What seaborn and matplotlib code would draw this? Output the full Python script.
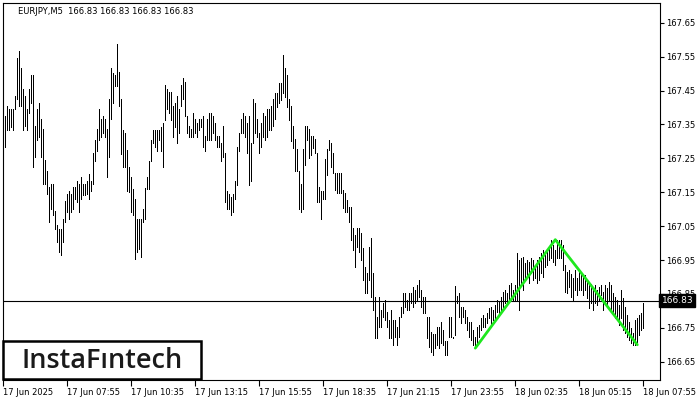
import matplotlib
matplotlib.use("Agg")
import matplotlib.pyplot as plt
import numpy as np
import pandas as pd
import seaborn as sns
from matplotlib.patches import Rectangle

# EURJPY M5 bars (high / low per bar)
symbol = "EURJPY,M5"
last_price = 166.83

bar_high = [
    167.375, 167.375, 167.404, 167.395, 167.395, 167.395, 167.434, 167.546, 167.567, 167.516,
    167.454, 167.434, 167.395, 167.454, 167.496, 167.496, 167.345, 167.395, 167.413, 167.366,
    167.336, 167.245, 167.212, 167.165, 167.174, 167.174, 167.095, 167.053, 167.041, 167.041,
    167.071, 167.124, 167.145, 167.154, 167.145, 167.165, 167.165, 167.183, 167.174, 167.195,
    167.174, 167.174, 167.183, 167.204, 167.183, 167.266, 167.304, 167.336, 167.395, 167.366,
    167.375, 167.366, 167.336, 167.425, 167.516, 167.502, 167.496, 167.587, 167.505, 167.425,
    167.334, 167.325, 167.275, 167.224, 167.195, 167.160, 167.130, 167.071, 167.071, 167.071,
    167.100, 167.162, 167.195, 167.242, 167.304, 167.334, 167.334, 167.334, 167.334, 167.342,
    167.354, 167.466, 167.454, 167.446, 167.446, 167.404, 167.413, 167.434, 167.395, 167.466,
    167.487, 167.475, 167.375, 167.345, 167.336, 167.384, 167.366, 167.354, 167.366, 167.366,
    167.375, 167.316, 167.366, 167.384, 167.384, 167.375, 167.354, 167.316, 167.316, 167.295,
    167.345, 167.266, 167.154, 167.145, 167.136, 167.145, 167.183, 167.283, 167.325, 167.366,
    167.384, 167.375, 167.354, 167.375, 167.295, 167.425, 167.413, 167.366, 167.325, 167.354,
    167.384, 167.375, 167.395, 167.395, 167.404, 167.425, 167.443, 167.443, 167.472, 167.472,
    167.555, 167.516, 167.496, 167.425, 167.404, 167.345, 167.307, 167.277, 167.212, 167.174,
    167.277, 167.345, 167.345, 167.336, 167.316, 167.316, 167.307, 167.266, 167.165, 167.154,
    167.154, 167.248, 167.277, 167.304, 167.295, 167.266, 167.207, 167.207, 167.207, 167.207,
    167.157, 167.148, 167.127, 167.106, 167.106, 167.044, 167.024, 167.044, 167.044, 167.030,
    166.985, 166.929, 166.912, 166.988, 167.015, 166.912, 166.841, 166.782, 166.841, 166.803,
    166.823, 166.832, 166.797, 166.773, 166.803, 166.773, 166.773, 166.752, 166.782, 166.811,
    166.853, 166.853, 166.832, 166.853, 166.853, 166.870, 166.862, 166.876, 166.891, 166.862,
    166.841, 166.841, 166.782, 166.782, 166.738, 166.732, 166.732, 166.752, 166.752, 166.767,
    166.744, 166.711, 166.711, 166.782, 166.782, 166.723, 166.873, 166.844, 166.853, 166.811,
    166.811, 166.803, 166.782, 166.767, 166.767, 166.744, 166.723, 166.752, 166.758, 166.779,
    166.788, 166.779, 166.794, 166.808, 166.811, 166.803, 166.817, 166.832, 166.826, 166.841,
    166.856, 166.862, 166.853, 166.876, 166.882, 166.862, 166.876, 166.971, 166.950, 166.956,
    166.959, 166.941, 166.950, 166.944, 166.956, 166.950, 166.926, 166.950, 166.959, 166.971,
    166.980, 166.965, 166.980, 166.985, 167.009, 166.994, 166.980, 167.009, 167.009, 167.009,
    166.994, 166.935, 166.915, 166.921, 166.909, 166.897, 166.921, 166.897, 166.921, 166.906,
    166.903, 166.906, 166.891, 166.879, 166.879, 166.867, 166.876, 166.862, 166.870, 166.876,
    166.856, 166.876, 166.867, 166.885, 166.876, 166.853, 166.841, 166.832, 166.817, 166.862,
    166.838, 166.811, 166.788, 166.767, 166.750, 166.735, 166.773, 166.779, 166.788, 166.794,
    166.823,
]

bar_low = [
    167.266, 167.283, 167.334, 167.334, 167.342, 167.334, 167.395, 167.425, 167.404, 167.404,
    167.334, 167.345, 167.334, 167.384, 167.413, 167.224, 167.254, 167.304, 167.313, 167.254,
    167.174, 167.174, 167.145, 167.062, 167.100, 167.083, 167.041, 167.003, 166.974, 166.965,
    167.003, 167.062, 167.092, 167.071, 167.092, 167.100, 167.130, 167.121, 167.092, 167.130,
    167.142, 167.142, 167.145, 167.130, 167.154, 167.174, 167.242, 167.272, 167.304, 167.313,
    167.325, 167.313, 167.195, 167.254, 167.366, 167.413, 167.463, 167.463, 167.404, 167.263,
    167.224, 167.224, 167.154, 167.151, 167.092, 167.083, 166.953, 166.974, 166.982, 166.959,
    167.062, 167.071, 167.160, 167.160, 167.242, 167.295, 167.283, 167.272, 167.304, 167.272,
    167.224, 167.363, 167.395, 167.384, 167.363, 167.313, 167.342, 167.295, 167.325, 167.404,
    167.425, 167.375, 167.325, 167.313, 167.313, 167.313, 167.325, 167.313, 167.334, 167.342,
    167.283, 167.272, 167.304, 167.304, 167.304, 167.325, 167.304, 167.283, 167.283, 167.242,
    167.254, 167.121, 167.100, 167.100, 167.083, 167.092, 167.130, 167.171, 167.272, 167.325,
    167.325, 167.313, 167.266, 167.171, 167.183, 167.295, 167.325, 167.313, 167.266, 167.283,
    167.313, 167.304, 167.313, 167.334, 167.334, 167.345, 167.366, 167.401, 167.413, 167.422,
    167.443, 167.431, 167.401, 167.363, 167.301, 167.280, 167.212, 167.212, 167.100, 167.092,
    167.100, 167.230, 167.304, 167.251, 167.260, 167.280, 167.266, 167.121, 167.121, 167.071,
    167.130, 167.130, 167.201, 167.275, 167.224, 167.207, 167.157, 167.148, 167.148, 167.148,
    167.103, 167.092, 167.092, 167.062, 167.009, 166.980, 166.929, 166.988, 166.974, 166.950,
    166.891, 166.853, 166.853, 166.891, 166.841, 166.803, 166.720, 166.720, 166.752, 166.752,
    166.782, 166.773, 166.752, 166.720, 166.720, 166.699, 166.723, 166.699, 166.723, 166.782,
    166.794, 166.811, 166.803, 166.803, 166.823, 166.811, 166.823, 166.832, 166.841, 166.811,
    166.794, 166.794, 166.720, 166.693, 166.679, 166.670, 166.690, 166.699, 166.690, 166.705,
    166.699, 166.670, 166.670, 166.723, 166.723, 166.720, 166.729, 166.823, 166.782, 166.764,
    166.782, 166.764, 166.744, 166.723, 166.714, 166.699, 166.693, 166.705, 166.723, 166.744,
    166.752, 166.752, 166.764, 166.779, 166.752, 166.773, 166.779, 166.797, 166.788, 166.803,
    166.811, 166.823, 166.823, 166.832, 166.832, 166.832, 166.832, 166.832, 166.803, 166.882,
    166.862, 166.891, 166.906, 166.882, 166.912, 166.891, 166.897, 166.882, 166.891, 166.912,
    166.900, 166.929, 166.935, 166.950, 166.956, 166.944, 166.935, 166.956, 166.956, 166.956,
    166.921, 166.856, 166.853, 166.870, 166.841, 166.832, 166.862, 166.847, 166.862, 166.862,
    166.847, 166.862, 166.838, 166.808, 166.823, 166.803, 166.823, 166.817, 166.832, 166.847,
    166.803, 166.823, 166.817, 166.832, 166.803, 166.797, 166.779, 166.773, 166.758, 166.779,
    166.744, 166.735, 166.723, 166.714, 166.705, 166.699, 166.699, 166.708, 166.729, 166.744,
    166.750,
]

time_labels = ["17 Jun 2025", "17 Jun 07:55", "17 Jun 10:35", "17 Jun 13:15",
               "17 Jun 15:55", "17 Jun 18:35", "17 Jun 21:15", "17 Jun 23:55",
               "18 Jun 02:35", "18 Jun 05:15", "18 Jun 07:55"]
bars_per_label = 32

price_ticks = [166.65, 166.75, 166.85, 166.95, 167.05, 167.15,
               167.25, 167.35, 167.45, 167.55, 167.65]

# double top pattern (green)
pattern_bar = [236, 276, 317]
pattern_price = [166.69, 167.01, 166.70]

bars = pd.DataFrame({"high": bar_high, "low": bar_low})
bars["idx"] = np.arange(len(bars))
pattern = pd.DataFrame({"idx": pattern_bar, "price": pattern_price})

sns.set_style("white")
plt.rcParams["font.family"] = ["DejaVu Sans"]

W, H = 700, 400
fig = plt.figure(figsize=(7, 4), dpi=100)
ax = fig.add_axes([2.5 / W, 20.5 / H, 657 / W, 377 / H])

ax.vlines(bars["idx"], bars["low"], bars["high"], color="black",
          linewidth=0.55, antialiased=False)
ax.axhline(last_price, color="black", linewidth=0.8)
sns.lineplot(data=pattern, x="idx", y="price", color="#1ee81e",
             linewidth=2.0, ax=ax, legend=False)

ax.set_xlim(-0.4, 328.1)
ax.set_ylim(166.5975, 167.7096)

ax.yaxis.tick_right()
ax.set_yticks(price_ticks)
ax.set_yticklabels([f"{p:.2f}" for p in price_ticks])
ax.tick_params(axis="y", direction="out", length=3, width=0.8, pad=2,
               labelsize=6, colors="black", right=True, left=False)

ax.set_xticks([i * bars_per_label for i in range(len(time_labels))])
ax.set_xticklabels(time_labels)
for lab in ax.get_xticklabels():
    lab.set_horizontalalignment("left")
ax.tick_params(axis="x", direction="out", length=4, width=0.8, pad=2,
               labelsize=6, colors="black", bottom=True)
ax.set_xlabel("")
ax.set_ylabel("")

for s in ax.spines.values():
    s.set_color("black")
    s.set_linewidth(0.8)
    s.set_visible(True)

# current price tag on the price scale
ax.text(1.003, last_price, f"{last_price:.2f}", transform=ax.get_yaxis_transform(),
        ha="left", va="center", fontsize=6.5, color="white", zorder=10,
        clip_on=False,
        bbox=dict(boxstyle="square,pad=0.25", facecolor="black", edgecolor="black"))

fig.text(18 / W, 1 - 11 / H,
         f"{symbol}  {last_price:.2f} {last_price:.2f} {last_price:.2f} {last_price:.2f}",
         fontsize=6, color="black", va="center", ha="left")

# logo box
logo = Rectangle((3 / W, 21 / H), 198 / W, 38 / H, transform=fig.transFigure,
                 facecolor="white", edgecolor="black", linewidth=1.8, zorder=5)
fig.patches.append(logo)
fig.text(102 / W, 32 / H, "InstaF\u0131ntech", fontsize=19.5, family="Open Sans",
         weight="semibold", color="#1a1a1a", ha="center", va="baseline", zorder=6)

fig.savefig("out.png", dpi=100)
